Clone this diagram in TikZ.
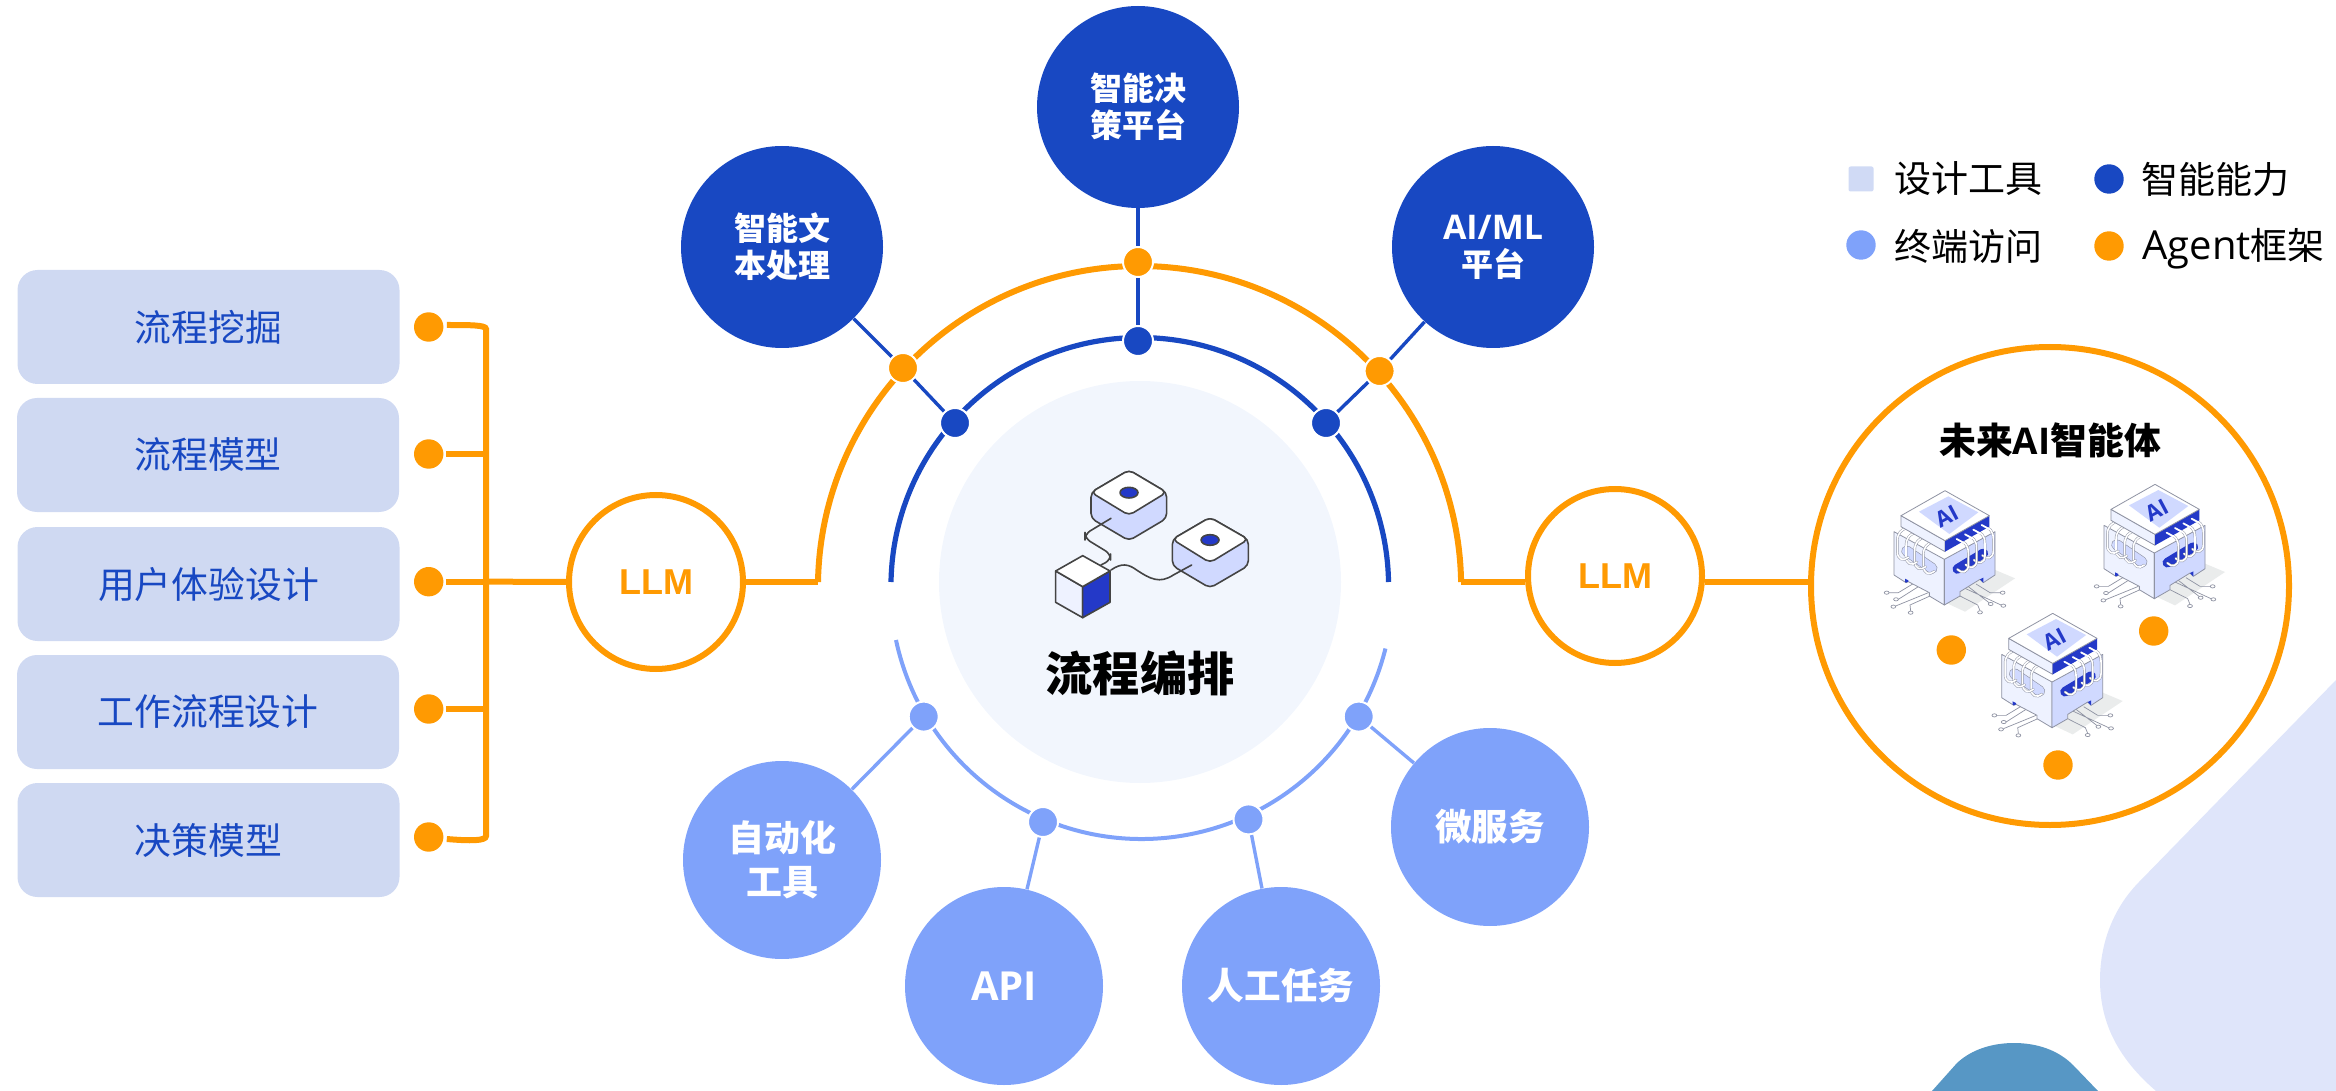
\documentclass[tikz,border=0pt]{standalone}
\usepackage{fontspec}
\setmainfont{Noto Sans CJK SC}
\newfontfamily\latinb[BoldFont=Open Sans Bold]{Open Sans}
\newfontfamily\arialb{Liberation Sans}
\definecolor{bluedark}{HTML}{1848C2}
\definecolor{bluelight}{HTML}{7FA2FA}
\definecolor{orangec}{HTML}{FF9A02}
\definecolor{boxc}{HTML}{CFD9F2}
\definecolor{corec}{HTML}{F2F6FD}
\definecolor{legc}{HTML}{D0DAF5}
\definecolor{iconblue}{HTML}{2439C8}
\definecolor{iconside}{HTML}{D0D9FF}
\definecolor{iconpale}{HTML}{EEF2FF}
\definecolor{iconline}{HTML}{444444}
\definecolor{chipline}{HTML}{8F93A3}
\definecolor{shadowc}{HTML}{EAECEC}
\definecolor{bglav}{HTML}{DFE5FA}
\definecolor{bgblue}{HTML}{5797C5}
\tikzset{
  boxnode/.style={draw=none,fill=boxc,rounded corners=10pt,minimum width=191pt,minimum height=57pt,inner sep=0pt,text=bluedark,font=\fontsize{18.4}{22}\selectfont},
  bigdark/.style={circle,fill=bluedark,minimum size=101pt,inner sep=0pt,text=white,align=center,font=\fontsize{16}{18.5}\selectfont\bfseries},
  biglight/.style={circle,fill=bluelight,minimum size=99pt,inner sep=0pt,text=white,align=center,font=\fontsize{18}{22}\selectfont\bfseries},
  llmnode/.style={circle,draw=orangec,line width=3pt,fill=white,minimum size=87pt,inner sep=0pt,text=orangec,font=\arialb\fontsize{18}{20}\selectfont\bfseries},
  dotnode/.style={circle,fill=#1,minimum size=15pt,inner sep=0pt,draw=white,line width=1pt},
  plaindot/.style={circle,fill=#1,minimum size=14.7pt,inner sep=0pt},
  oline/.style={draw=orangec,line width=3pt},
  bline/.style={draw=bluedark,line width=1.7pt},
  lline/.style={draw=bluelight,line width=1.7pt},
  legtext/.style={anchor=west,inner sep=0pt,font=\fontsize{18.5}{22}\selectfont},
  iconedge/.style={draw=iconline,line width=.8pt,line join=round},
  chipedge/.style={draw=chipline,line width=.4pt,line join=round},
  pinline/.style={draw=chipline,line width=.35pt},
  pinhead/.style={draw=chipline,fill=white,line width=.35pt},
  coilout/.style={draw=chipline,line width=1.25pt,line cap=round},
  coilin/.style={draw=white,line width=.8pt,line cap=round},
}
% one isometric chip: #1,#2 origin, #3 name
\newcommand{\chipdraw}[3]{%
\begin{scope}[shift={(#1,#2)},scale=1/3]
  \fill[shadowc] (430,285)--(525,325)--(375,425)--(300,390)--cycle;
  \draw[pinline] (218,342)--(175,368)--(147,368) (235,350)--(175,388) (265,368)--(167,408) (270,378)--(210,405)--(212,423);
  \draw[pinline] (408,342)--(450,368)--(482,368) (385,350)--(447,398) (375,355)--(483,405) (360,378)--(413,405)--(420,422);
  \foreach \x/\y in {140/368,168/388,160/410,212/428,488/368,452/402,490/407,420/427}{
    \draw[pinhead] (\x,\y) circle[x radius=3.6pt,y radius=2.4pt];}
  % lower block
  \filldraw[chipedge,fill=iconpale] (162,185)--(313,268)--(313,405)--(268,378)--(268,368)--(205,335)--(198,338)--(162,315)--cycle;
  \filldraw[chipedge,fill=iconside] (313,268)--(465,185)--(465,315)--(430,338)--(420,328)--(360,365)--(360,378)--(313,405)--cycle;
  \fill[iconblue] (195,326)--(205,331)--(205,335)--(198,338)--(195,336)--cycle;
  \fill[iconblue] (420,328)--(430,323)--(430,338)--cycle;
  % side slots
  \draw[draw=chipline,line width=5.4pt,line cap=round] (200,243)--(276,295);
  \draw[draw=iconside,line width=4.8pt,line cap=round] (200,243)--(276,295);
  \draw[draw=iconblue,line width=4.8pt,line cap=round] (352,297)--(430,250);
  % left coils
  \foreach \k in {3,2,1,0}{
    \begin{scope}[shift={(\k*26,\k*14)}]
    \draw[coilout] (212,168) .. controls (180,180) and (172,190) .. (172,215) -- (172,245) .. controls (172,268) and (190,275) .. (205,262);
    \draw[coilin] (212,168) .. controls (180,180) and (172,190) .. (172,215) -- (172,245) .. controls (172,268) and (190,275) .. (205,262);
    \end{scope}}
  % right coils
  \foreach \k in {3,2,1,0}{
    \begin{scope}[shift={(\k*25,-\k*14)}]
    \draw[coilout] (350,207) .. controls (375,215) and (385,225) .. (385,250) -- (385,285) .. controls (385,308) and (365,312) .. (352,298);
    \draw[coilin] (350,207) .. controls (375,215) and (385,225) .. (385,250) -- (385,285) .. controls (385,308) and (365,312) .. (352,298);
    \end{scope}}
  % upper block
  \filldraw[chipedge,fill=iconpale] (183,137)--(315,212)--(315,245)--(183,170)--cycle;
  \fill[iconblue] (315,212)--(448,137)--(448,170)--(315,245)--cycle;
  \filldraw[chipedge,fill=white] (315,62)--(448,137)--(315,212)--(183,137)--cycle;
  \fill[iconside] (325,79)--(415,127)--(328,192)--(237,125)--cycle;
  \foreach \k in {0,1,2,3}{
    \draw[draw=white,line width=.9pt,line cap=round] ({350+\k*25},{207-\k*14})--({372+\k*25},{219-\k*14});
  }
  \node[inner sep=0pt,rotate=28,text=iconblue,font=\latinb\fontsize{11}{12}\selectfont\bfseries] (#3) at (320,140) {AI};
\end{scope}}
\begin{document}
\begin{tikzpicture}[x=.5pt,y=-.5pt]
\useasboundingbox (0,0) rectangle (2336,1091);
% background shapes
\fill[bglav] (2336,680) -- (2138,883) .. controls (2112,910) and (2100,945) .. (2100,980) .. controls (2100,1025) and (2120,1060) .. (2156,1091) -- (2336,1091) -- cycle;
\fill[bgblue] (1932,1091) -- (1957,1063) .. controls (1972,1049) and (1993,1043) .. (2014,1043) .. controls (2037,1043) and (2058,1050) .. (2073,1065) -- (2098,1091) -- cycle;

% core
\node[circle,fill=corec,minimum size=201pt,inner sep=0pt] (core) at (1140,582) {};
\coordinate (oL) at (818,582);
\coordinate (oR) at (1461.4,582);
\coordinate (bL) at (891,582);
\coordinate (lS) at (896,640);

% arcs
\draw[oline] (oL) arc[start angle=179,end angle=1,radius=160.8pt];
\draw[draw=bluedark,line width=2.6pt] (bL) arc[start angle=179,end angle=1,radius=124.4pt];
\draw[draw=bluelight,line width=2pt] (lS) arc[start angle=192,end angle=346,radius=125.6pt];

% left boxes
\node[boxnode] (b1) at (208.5,327) {流程挖掘};
\node[boxnode] (b2) at (208,455) {流程模型};
\node[boxnode] (b3) at (208.5,584) {用户体验设计};
\node[boxnode] (b4) at (208,712) {工作流程设计};
\node[boxnode] (b5) at (208.5,840) {决策模型};
\node[plaindot=orangec] (d1) at (428.7,327) {};
\node[plaindot=orangec] (d2) at (428.7,454) {};
\node[plaindot=orangec] (d3) at (428.7,581.7) {};
\node[plaindot=orangec] (d4) at (428.7,709) {};
\node[plaindot=orangec] (d5) at (428.7,837) {};
\coordinate (busT) at (486,329);
\coordinate (busB) at (486,836);
\coordinate (busM) at (486,581.7);
\draw[oline] ([xshift=1.5pt,yshift=1pt]d1.east) .. controls (470,325) and (486,325) .. (busT) -- (busB) .. controls (486,841) and (470,841) .. ([xshift=1.5pt,yshift=-1pt]d5.east);
\draw[oline] ([xshift=1pt]d2.east) -- (d2 -| busT);
\draw[oline] ([xshift=1pt]d3.east) -- (d3 -| busT);
\draw[oline] ([xshift=1pt]d4.east) -- (d4 -| busT);

% LLM nodes
\node[llmnode] (llmA) at (656,582) {LLM};
\node[llmnode] (llmB) at (1615,576) {LLM};
\node[circle,draw=orangec,line width=3pt,fill=white,minimum size=239pt,inner sep=0pt] (fut) at (2050,586) {};
\draw[oline] (busM) -- (llmA);
\draw[oline] (llmA) -- (oL);
\draw[oline] (oR) -- (oR -| llmB.west);
\draw[oline] (llmB.east |- oR) -- (oR -| fut.west);

% upper circles
\node[bigdark] (t1) at (782,247) {智能文\\本处理};
\node[bigdark] (t2) at (1138,107) {智能决\\策平台};
\node[bigdark] (t3) at (1493,247) {\latinb\bfseries\fontsize{17}{18.5}\selectfont AI/ML\\\normalfont\fontspec{Noto Sans CJK SC}\bfseries\fontsize{16}{18.5}\selectfont 平台};
\node[dotnode=orangec] (o1) at (903,368) {};
\node[dotnode=orangec] (o2) at (1138,262) {};
\node[dotnode=orangec] (o3) at (1379.6,371) {};
\node[dotnode=bluedark] (u1) at (955,423) {};
\node[dotnode=bluedark] (u2) at (1138,341) {};
\node[dotnode=bluedark] (u3) at (1326,423) {};
\draw[bline] (t1) -- (o1);
\draw[bline] (o1) -- (u1);
\draw[bline] (t2) -- (o2);
\draw[bline] (o2) -- (u2);
\draw[bline] (t3) -- (o3);
\draw[bline] (o3) -- (u3);

% lower circles
\node[biglight] (w1) at (782,860) {\raisebox{-2pt}{自动化}\\\raisebox{-2pt}{工具}};
\node[biglight] (w2) at (1004,986) {\latinb\bfseries\fontsize{20}{22}\selectfont API};
\node[biglight] (w3) at (1281,986) {\fontsize{18.3}{22}\selectfont 人工任务};
\node[biglight] (w4) at (1490,827) {\raisebox{-2pt}{\fontsize{18.3}{22}\selectfont 微服务}};
\node[dotnode=bluelight] (l1) at (923.7,716.6) {};
\node[dotnode=bluelight] (l2) at (1043,822) {};
\node[dotnode=bluelight] (l3) at (1248.5,819.4) {};
\node[dotnode=bluelight] (l4) at (1358.7,716.6) {};
\draw[lline] (w1) -- (l1);
\draw[lline] (w2) -- (l2);
\draw[lline] (w3) -- (l3);
\draw[lline] (w4) -- (l4);

% centre icon
\begin{scope}[shift={(1000,430)},scale=1/3]
  \filldraw[iconedge,fill=iconside,rounded corners=2.5pt] (273,187)--(273,265)--(387,332)--(500,265)--(500,187)--(387,120)--cycle;
  \filldraw[iconedge,fill=white,rounded corners=2.5pt] (387,120)--(500,187)--(387,256)--(273,187)--cycle;
  \filldraw[iconedge,fill=iconblue] (387,188) circle[x radius=13.5pt,y radius=8pt];
  \filldraw[iconedge,fill=iconside,rounded corners=2.5pt] (517,328)--(517,407)--(630,474)--(745,407)--(745,328)--(630,262)--cycle;
  \filldraw[iconedge,fill=white,rounded corners=2.5pt] (630,262)--(745,328)--(630,398)--(517,328)--cycle;
  \filldraw[iconedge,fill=iconblue] (630,330) circle[x radius=13.5pt,y radius=8pt];
  \draw[iconedge,line cap=round,rounded corners=3pt] (333,265)--(255,312)--(255,325)--(332,372)--(332,390)--(303,405);
  \draw[iconedge,line cap=round] (333,420) .. controls (365,398) and (385,402) .. (410,420) .. controls (450,447) and (480,462) .. (520,435) -- (575,405);
  \filldraw[iconedge,fill=iconpale] (167,423)--(248,470)--(248,563)--(167,517)--cycle;
  \filldraw[iconedge,fill=iconblue] (248,470)--(330,423)--(330,517)--(248,563)--cycle;
  \filldraw[iconedge,fill=white] (248,377)--(330,423)--(248,470)--(167,423)--cycle;
\end{scope}
\node[inner sep=0pt,font=\fontsize{23.6}{28}\selectfont\bfseries] (title) at (1140,673) {流程编排};

% future AI
\node[inner sep=0pt,font=\fontsize{18.4}{22}\selectfont\bfseries] (futt) at (2050,440) {未来\latinb\bfseries AI\normalfont\fontspec{Noto Sans CJK SC}\bfseries 智能体};
\chipdraw{1840}{470}{chipA}
\chipdraw{2050}{463.7}{chipB}
\chipdraw{1947.7}{592.7}{chipC}
\node[plaindot=orangec] (ca) at (1951.3,650) {};
\node[plaindot=orangec] (cb) at (2153.7,631) {};
\node[plaindot=orangec] (cc) at (2058,765) {};

% legend
\node[fill=legc,minimum size=12.5pt,inner sep=0pt,rounded corners=1pt] (k1) at (1861,179) {};
\node[plaindot=bluedark] (k2) at (2109,179) {};
\node[plaindot=bluelight] (k3) at (1861,245) {};
\node[plaindot=orangec] (k4) at (2109,246) {};
\node[legtext] (kt1) at (1894,179) {设计工具};
\node[legtext] (kt2) at (2141,179) {智能能力};
\node[legtext] (kt3) at (1894,246) {终端访问};
\node[legtext] (kt4) at (2142,249) {\latinb\fontsize{20}{22}\selectfont Agent\normalfont\fontspec{Noto Sans CJK SC}\fontsize{18.5}{22}\selectfont 框架};
\end{tikzpicture}
\end{document}
